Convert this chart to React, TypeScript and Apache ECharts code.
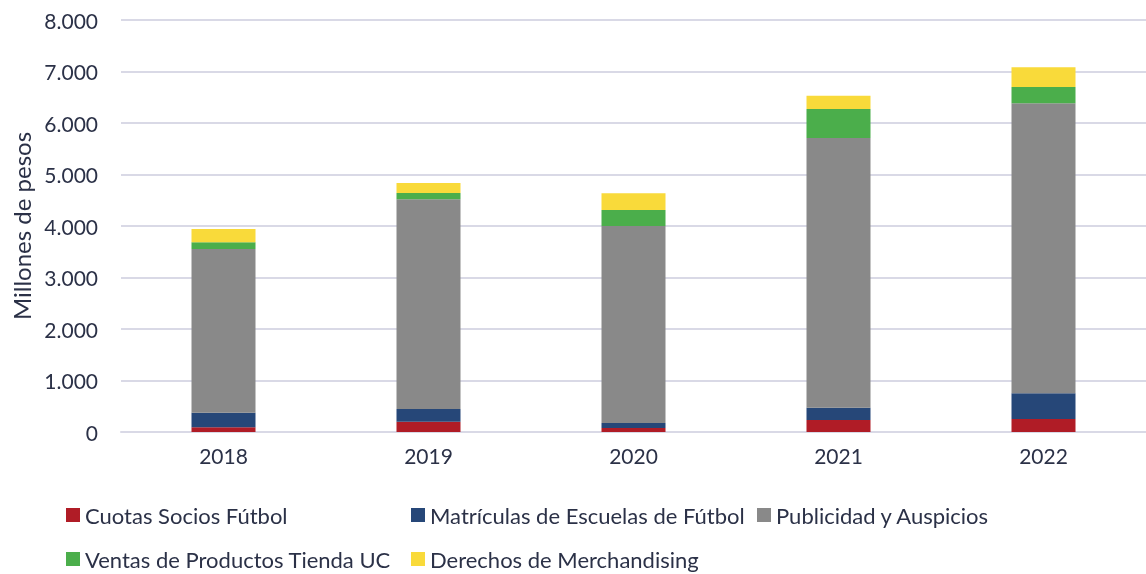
import React, { useEffect, useRef } from "react";
import * as echarts from "echarts";

const years = ["2018", "2019", "2020", "2021", "2022"];
const cuotas = [90, 200, 80, 233, 252];
const matriculas = [285, 247, 95, 239, 499];
const publicidad = [3178, 4071, 3825, 5237, 5631];
const ventas = [130, 123, 311, 563, 317];
const derechos = [260, 194, 324, 258, 382];

const seriesNames = [
  "Cuotas Socios Fútbol",
  "Matrículas de Escuelas de Fútbol",
  "Publicidad y Auspicios",
  "Ventas de Productos Tienda UC",
  "Derechos de Merchandising",
];
const seriesData = [cuotas, matriculas, publicidad, ventas, derechos];
const colors = ["#B01C26", "#264778", "#898989", "#4BAE4B", "#F9DA3A"];

const FONT = "Lato";
const TEXT = "#2B3147";

export default function App() {
  const ref = useRef<HTMLDivElement>(null);
  useEffect(() => {
    const chart = echarts.init(ref.current!, null, { renderer: "svg" });
    const legendPos = [
      { left: 66, top: 504 },
      { left: 411, top: 504 },
      { left: 757, top: 504 },
      { left: 66, top: 548 },
      { left: 411, top: 548 },
    ];
    chart.setOption({
      animation: false,
      textStyle: { fontFamily: FONT },
      grid: { left: 121, top: 20, width: 1030, height: 412, containLabel: false },
      legend: seriesNames.map((n, i) => ({
        data: [n],
        left: legendPos[i].left,
        top: legendPos[i].top,
        padding: 0,
        itemWidth: 14,
        itemHeight: 14,
        icon: "rect",
        itemGap: 4,
        textStyle: { fontFamily: FONT, fontSize: 22, color: TEXT },
      })),
      xAxis: {
        type: "category",
        data: years,
        axisLine: { lineStyle: { color: "#D9D9E6", width: 2 } },
        axisTick: { show: false },
        axisLabel: { fontSize: 21, color: TEXT, margin: 13, fontFamily: FONT },
      },
      yAxis: {
        type: "value",
        min: 0,
        max: 8000,
        interval: 1000,
        name: "Millones de pesos",
        nameLocation: "middle",
        nameGap: 88,
        nameTextStyle: { fontSize: 24, color: TEXT, fontFamily: FONT },
        axisLabel: {
          fontSize: 21,
          color: TEXT,
          margin: 23,
          fontFamily: FONT,
          formatter: (v: number) => (v === 0 ? "0" : v.toLocaleString("de-DE")),
        },
        splitLine: { lineStyle: { color: "#D9D9E6", width: 2 } },
      },
      series: seriesNames.map((n, i) => ({
        name: n,
        type: "bar",
        stack: "total",
        data: seriesData[i],
        barWidth: 64,
        itemStyle: { color: colors[i] },
      })),
    });
    return () => chart.dispose();
  }, []);
  return (
    <div
      ref={ref}
      style={{ position: "fixed", left: 0, top: 0, width: 1146, height: 574, overflow: "hidden" }}
    />
  );
}
